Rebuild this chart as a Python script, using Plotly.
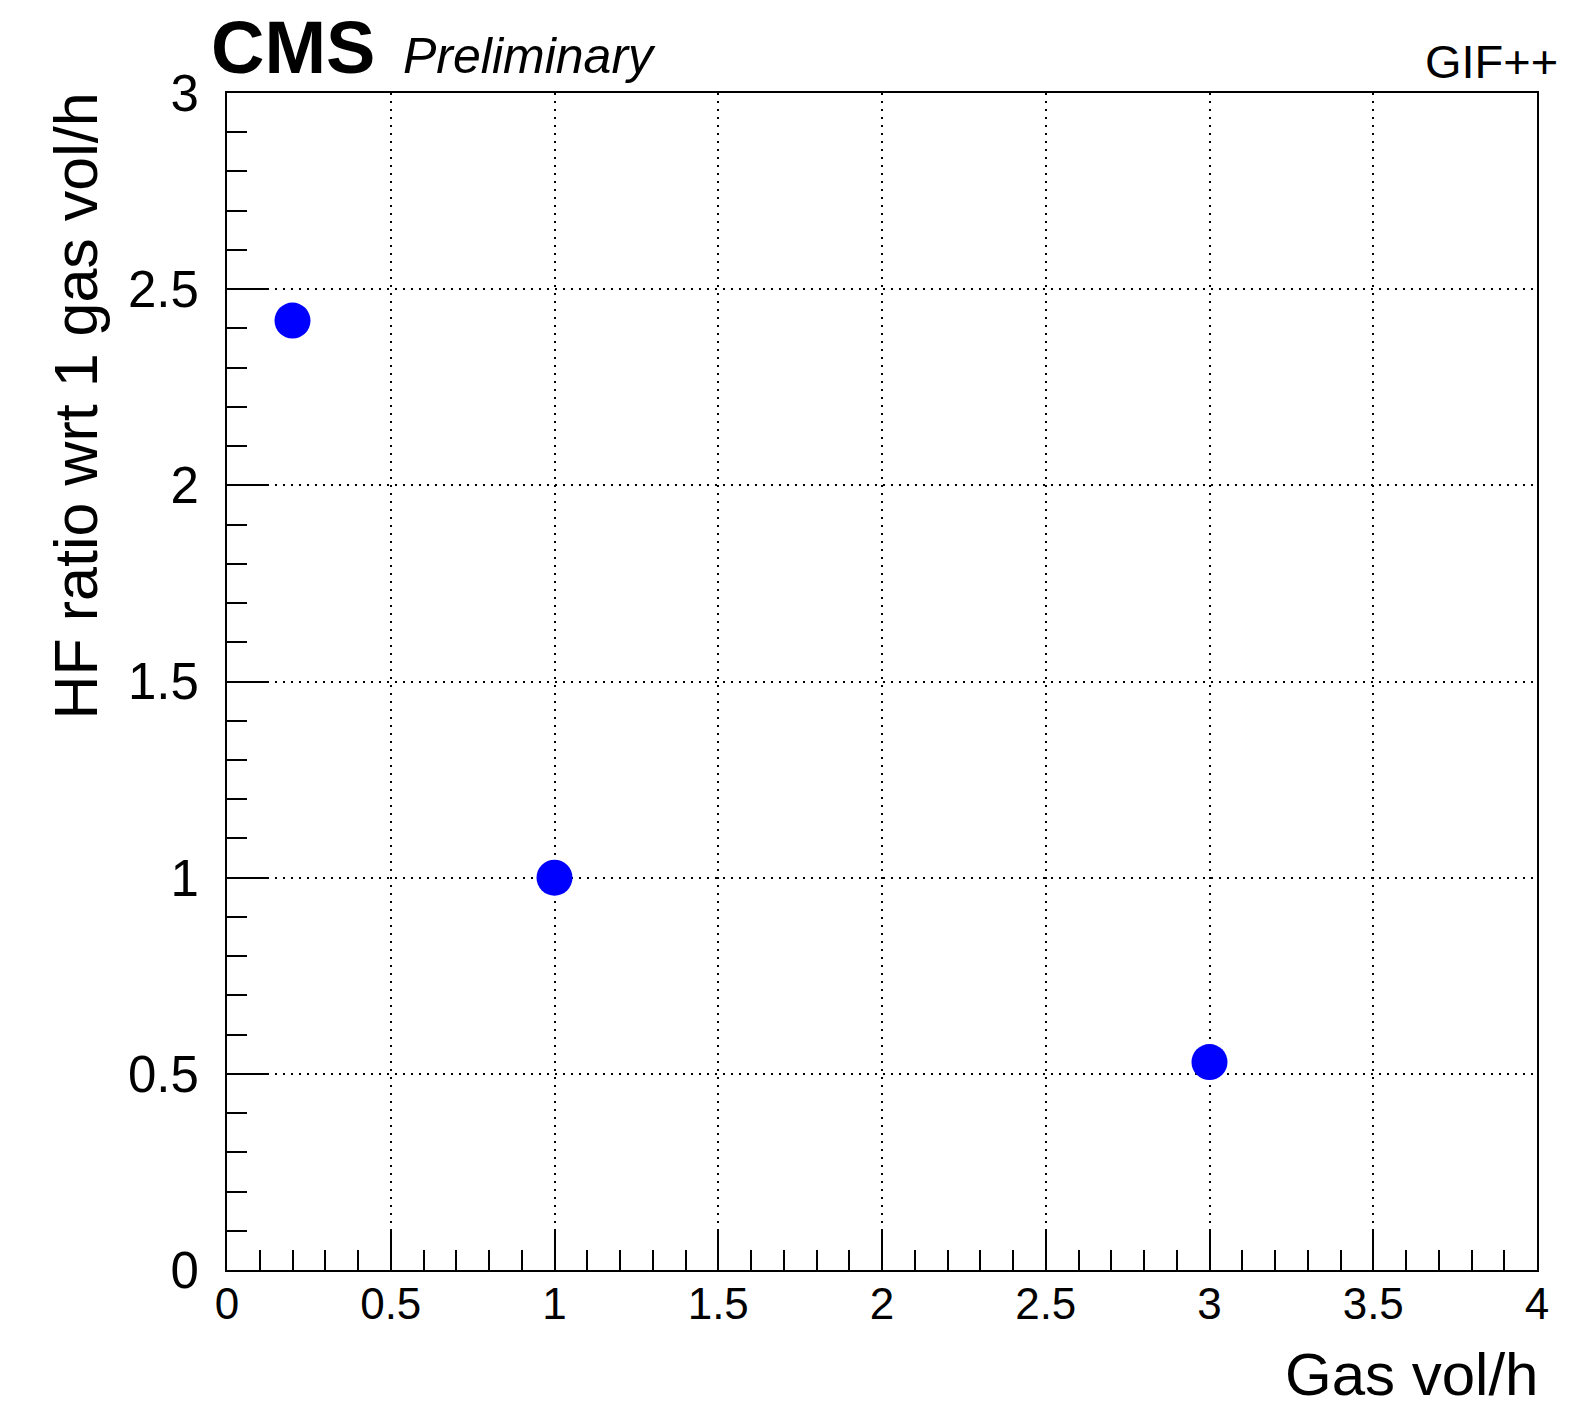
import plotly.graph_objects as go

# Measured HF ratio relative to the 1 gas vol/h point
gas_flow = [0.2, 1.0, 3.0]
hf_ratio = [2.42, 1.0, 0.53]

x_ticks = [0, 0.5, 1, 1.5, 2, 2.5, 3, 3.5, 4]
x_tick_text = ["0", "0.5", "1", "1.5", "2", "2.5", "3", "3.5", "4"]
y_ticks = [0, 0.5, 1, 1.5, 2, 2.5, 3]
y_tick_text = ["0", "0.5", "1", "1.5", "2", "2.5", "3"]

W, H = 1573, 1407
L, R, T, B = 227, 1537, 93, 1270  # plot frame in pixels
FONT = "Liberation Sans, Arial, Helvetica, sans-serif"


def px(xpix):
    return (xpix - L) / (R - L)


def py(ypix):
    return (B - ypix) / (B - T)


fig = go.Figure()
fig.add_trace(go.Scatter(
    x=gas_flow, y=hf_ratio, mode="markers",
    marker=dict(symbol="circle", size=36, color="#0000ff", line=dict(width=0)),
    showlegend=False, hoverinfo="x+y",
))

axis_common = dict(
    showline=True, linecolor="black", linewidth=2, mirror=True,
    ticks="inside", tickcolor="black", tickwidth=2, ticklen=40,
    showgrid=True, gridcolor="black", gridwidth=1.5, griddash="2px,6px",
    zeroline=False,
    minor=dict(ticks="inside", ticklen=20, tickwidth=2, tickcolor="black",
               dtick=0.1, showgrid=False),
)

fig.update_xaxes(
    range=[0, 4], tickmode="array", tickvals=x_ticks, ticktext=x_tick_text,
    tickfont=dict(family=FONT, size=44, color="black"),
    ticklabelstandoff=-6,
    **axis_common,
)
fig.update_yaxes(
    range=[0, 3], tickmode="array", tickvals=y_ticks, ticktext=y_tick_text,
    tickfont=dict(family=FONT, size=51, color="black"),
    ticklabelstandoff=16,
    **axis_common,
)

annotations = [
    dict(text="<b>CMS</b>", x=px(210), y=py(48), xanchor="left", yanchor="middle",
         font=dict(family=FONT, size=74, color="black")),
    dict(text="<i>Preliminary</i>", x=px(402), y=py(56), xanchor="left", yanchor="middle",
         font=dict(family=FONT, size=50, color="black")),
    dict(text="GIF++", x=px(1559), y=py(62), xanchor="right", yanchor="middle",
         font=dict(family=FONT, size=47, color="black")),
    dict(text="Gas vol/h", x=px(1539), y=py(1374), xanchor="right", yanchor="middle",
         font=dict(family=FONT, size=60, color="black")),
    dict(text="HF ratio wrt 1 gas vol/h", x=px(76), y=py(92), xanchor="center", yanchor="top",
         textangle=-90, font=dict(family=FONT, size=61, color="black")),
]
for a in annotations:
    a.update(xref="paper", yref="paper", showarrow=False, borderpad=0)

fig.update_layout(
    width=W, height=H,
    margin=dict(l=L, r=W - R, t=T, b=H - B, pad=0),
    paper_bgcolor="white", plot_bgcolor="white",
    annotations=annotations,
    font=dict(family=FONT, color="black"),
)

fig.write_html("out.html", config={"displayModeBar": False})
